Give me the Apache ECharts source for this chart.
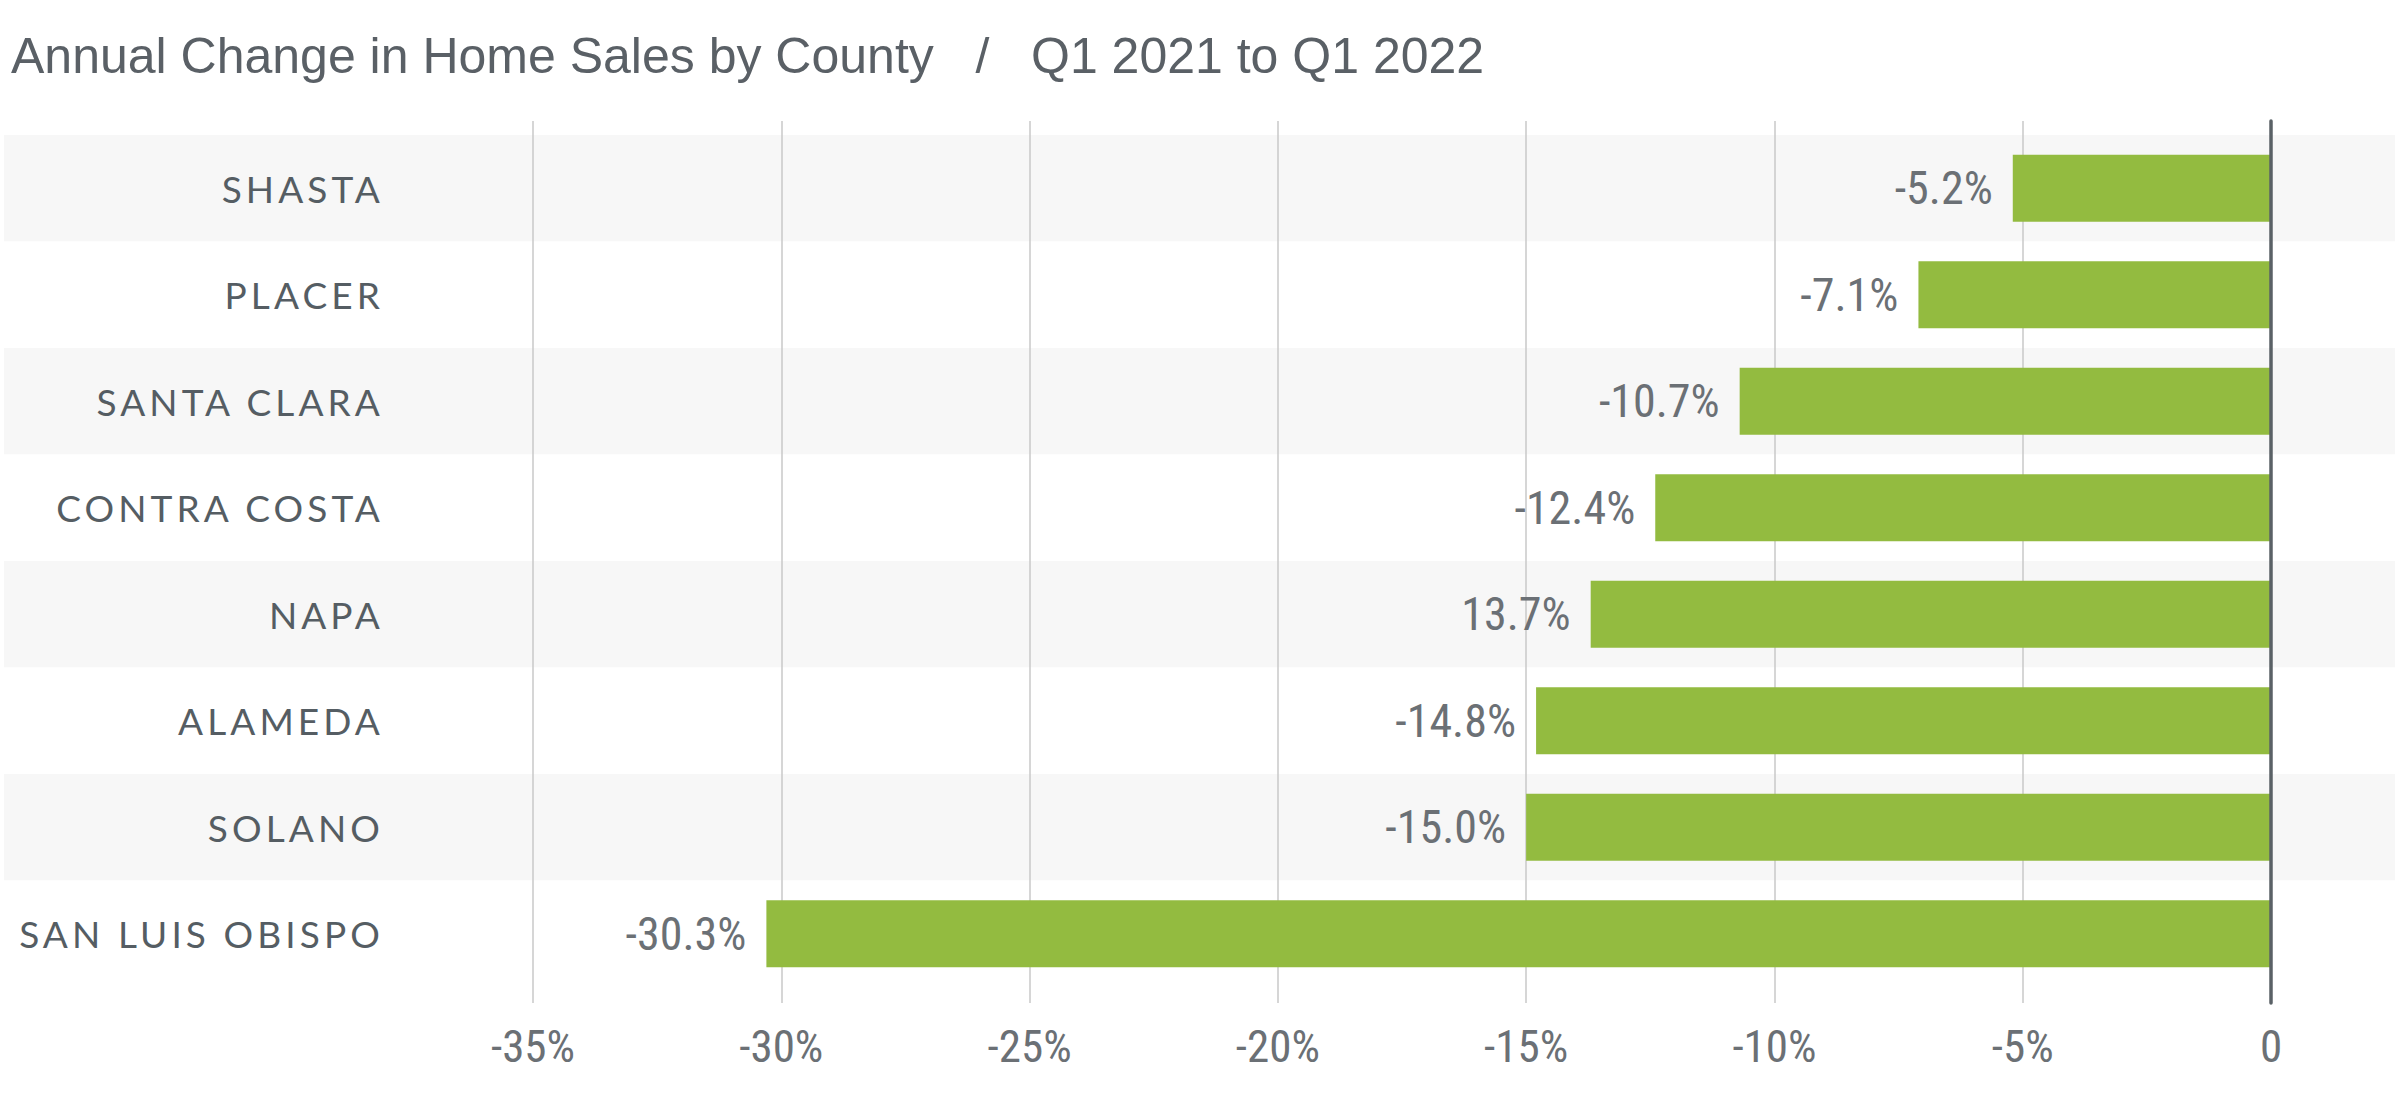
<!DOCTYPE html>
<html>
<head>
<meta charset="utf-8">
<script src="https://cdn.jsdelivr.net/npm/echarts@6/dist/echarts.min.js"></script>
<style>
  html, body { margin: 0; padding: 0; background: #ffffff; }
  #chart { width: 2400px; height: 1107px; }
  #chart text { white-space: pre; }
</style>
</head>
<body>
<div id="chart"></div>
<script>
const titleText = 'Annual Change in Home Sales by County   /   Q1 2021 to Q1 2022';
const categories = ['SHASTA', 'PLACER', 'SANTA CLARA', 'CONTRA COSTA', 'NAPA', 'ALAMEDA', 'SOLANO', 'SAN LUIS OBISPO'];
const values = [-5.2, -7.1, -10.7, -12.4, -13.7, -14.8, -15.0, -30.3];
const valueLabels = ['-5.2%', '-7.1%', '-10.7%', '-12.4%', '13.7%', '-14.8%', '-15.0%', '-30.3%'];
const xMin = -35, xMax = 0, xStep = 5;

const narrow = "'Liberation Sans Narrow', 'Roboto Condensed', 'Open Sans Condensed', 'DejaVu Sans Condensed', sans-serif";
const gridLeft = 533, gridRight = 129;

const chart = echarts.init(document.getElementById('chart'), null, { renderer: 'svg' });
chart.setOption({
  animation: false,
  backgroundColor: '#ffffff',
  title: {
    text: titleText,
    left: 6, top: 26,
    textStyle: { fontFamily: "'Liberation Sans', Arial, sans-serif", fontWeight: 'normal', fontSize: 50, color: '#5a6066' }
  },
  grid: [
    { left: 4, right: 5, top: 135, height: 852 },
    { left: gridLeft, right: gridRight, top: 121, height: 882 },
    { left: gridLeft, right: gridRight, top: 135, height: 852 }
  ],
  xAxis: [
    { gridIndex: 0, type: 'value', min: 0, max: 1, show: false },
    {
      gridIndex: 1, type: 'value', min: xMin, max: xMax, interval: xStep, z: 1,
      axisLine: { show: false }, axisTick: { show: false },
      splitLine: { show: true, lineStyle: { color: '#c8c8c8', width: 1.5 } },
      axisLabel: {
        margin: 21, fontFamily: narrow, fontSize: 45, color: '#6b7075',
        formatter: v => (v === 0 ? '0' : v + '%')
      }
    },
    { gridIndex: 2, type: 'value', min: xMin, max: xMax, show: false }
  ],
  yAxis: [
    {
      gridIndex: 0, type: 'category', data: categories, inverse: true, z: 0,
      axisLine: { show: false }, axisTick: { show: false }, axisLabel: { show: false },
      splitLine: { show: false },
      splitArea: { show: true, areaStyle: { color: ['#f7f7f7', '#ffffff'] } }
    },
    {
      gridIndex: 1, type: 'value', position: 'right', z: 3,
      axisLine: { show: true, onZero: false, lineStyle: { color: '#5a6166', width: 3.5 } },
      axisTick: { show: false }, axisLabel: { show: false }, splitLine: { show: false }
    },
    {
      gridIndex: 2, type: 'category', data: categories, inverse: true, z: 2,
      axisLine: { show: false }, axisTick: { show: false }, splitLine: { show: false },
      axisLabel: {
        margin: 149, fontFamily: "Lato, 'Open Sans', sans-serif", fontSize: 37, color: '#555d63'
      }
    }
  ],
  series: [
    {
      type: 'bar', xAxisIndex: 2, yAxisIndex: 2, data: values, z: 2,
      barCategoryGap: '37%',
      itemStyle: { color: '#93bb40' },
      label: {
        show: true, position: 'left', distance: 20,
        fontFamily: narrow, fontSize: 46, color: '#6b7075',
        formatter: p => valueLabels[p.dataIndex]
      }
    }
  ]
});

// letter spacing for the category labels (as in the reference)
const catSet = new Set(categories);
document.querySelectorAll('#chart text').forEach(t => {
  if (catSet.has(t.textContent)) t.style.letterSpacing = '4.1px';
});
</script>
</body>
</html>
